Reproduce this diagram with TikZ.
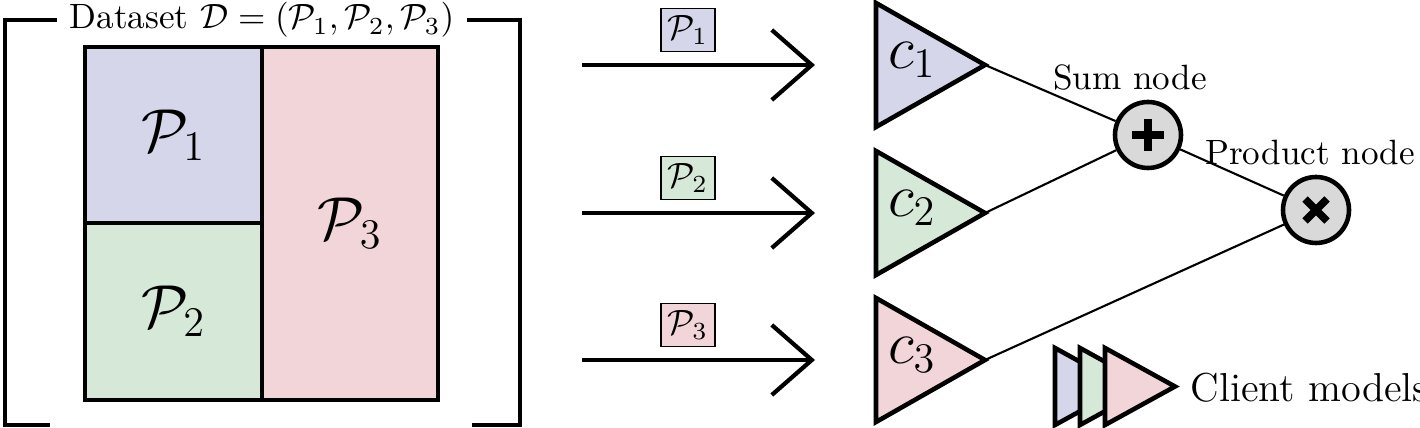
\documentclass[tikz,border=0pt]{standalone}
\usepackage{amsmath,amssymb}
\usetikzlibrary{arrows.meta}
\definecolor{pone}{HTML}{D5D6EA}
\definecolor{ptwo}{HTML}{D6E8D8}
\definecolor{pthree}{HTML}{F2D5D8}
\definecolor{opgray}{HTML}{D9D9D9}
\tikzset{
	part/.style={draw, line width=1.2pt},
	tri/.style={draw, line width=1.3pt, line join=miter},
	tag/.style={draw, inner sep=2pt, font=\normalsize},
	opnode/.style={circle, draw, line width=1.3pt, fill=opgray, minimum size=0.66cm, inner sep=0pt},
	opsign/.style={line width=2.2pt},
	feed/.style={line width=1.2pt, -{Straight Barb[length=4mm, width=7mm, line width=1.2pt]}},
	wire/.style={line width=0.6pt}
}
\begin{document}
\begin{tikzpicture}[x=1cm, y=-1cm]
		\useasboundingbox (0,0) rectangle (14.2,4.28);

		% dataset
		\draw [part, fill=pone]   (0.85,0.47) rectangle (2.62,2.23) node [midway, font=\LARGE] (p1) {$\mathcal{P}_1$};
		\draw [part, fill=ptwo]   (0.85,2.23) rectangle (2.62,4.00) node [midway, font=\LARGE] (p2) {$\mathcal{P}_2$};
		\draw [part, fill=pthree] (2.62,0.47) rectangle (4.38,4.00) node [midway, font=\LARGE] (p3) {$\mathcal{P}_3$};

		\node (data) at (2.62,0.20) {Dataset $\mathcal{D}=(\mathcal{P}_1,\mathcal{P}_2,\mathcal{P}_3)$};
		\draw [part] (data.west) -- (0.05,0.20) -- (0.05,4.25) -- (0.50,4.25);
		\draw [part] (data.east) -- (5.20,0.20) -- (5.20,4.25) -- (4.72,4.25);

		% client models
		\foreach \n/\y/\col in {1/0.65/pone, 2/2.13/ptwo, 3/3.60/pthree} {
			\coordinate (s\n) at (5.82,\y);
			\coordinate (e\n) at (8.15,\y);
			\draw [feed] (s\n) -- (e\n);
			\node [tag, fill=\col] (t\n) at (6.88,\y-0.35) {$\mathcal{P}_\n$};
			\draw [tri, fill=\col] (8.76,\y-0.62) -- (9.85,\y) -- (8.76,\y+0.62) -- cycle;
			\coordinate (c\n) at (9.85,\y);
			\node [font=\LARGE] at (9.12,\y-0.05) {$c_\n$};
		}

		\node [opnode] (sum) at (11.48,1.35) {};
		\node [opnode] (prod) at (13.16,2.10) {};
		\draw [opsign] ([xshift=-0.16cm]sum.center) -- ([xshift=0.16cm]sum.center);
		\draw [opsign] ([yshift=-0.16cm]sum.center) -- ([yshift=0.16cm]sum.center);
		\draw [opsign] ([shift={(-0.11,-0.11)}]prod.center) -- ([shift={(0.11,0.11)}]prod.center);
		\draw [opsign] ([shift={(-0.11,0.11)}]prod.center) -- ([shift={(0.11,-0.11)}]prod.center);
		\node (sumlabel) at (11.30,0.78) {Sum node};
		\node (prodlabel) at (13.10,1.53) {Product node};

		\draw [wire] (c1) -- (sum);
		\draw [wire] (c2) -- (sum);
		\draw [wire] (sum) -- (prod);
		\draw [wire] (c3) -- (prod);

		% legend
		\foreach \x/\col in {10.55/pone, 10.80/ptwo, 11.05/pthree} {
			\draw [tri, fill=\col] (\x,3.48) -- (\x+0.70,3.865) -- (\x,4.25) -- cycle;
		}
		\node [font=\fontsize{11.5}{13}\selectfont, anchor=west, inner sep=0pt] (legend) at (11.90,3.88) {Client models};
	\end{tikzpicture}
\end{document}
